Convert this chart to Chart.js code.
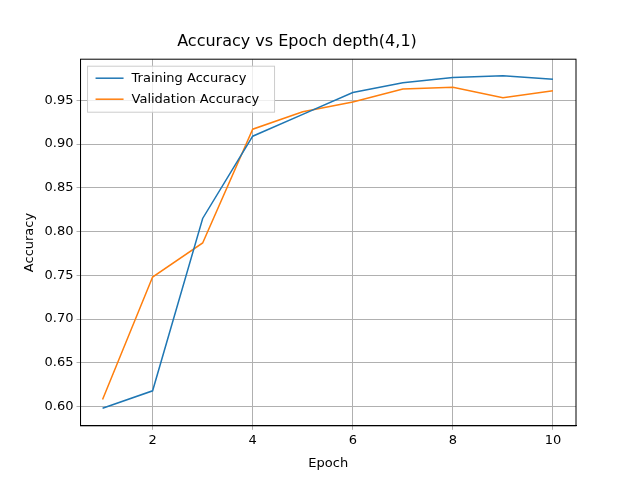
<!DOCTYPE html>
<html>
<head>
<script src="https://cdn.jsdelivr.net/npm/chart.js@4"></script>
<style>body{margin:0;background:#fff}#wrap{width:640px;height:480px}</style>
</head>
<body>
<div id="wrap"><canvas id="c" width="640" height="480"></canvas></div>
<script>
const epochs = [1, 2, 3, 4, 5, 6, 7, 8, 9, 10];
const trainAcc = [0.598, 0.618, 0.815, 0.909, 0.934, 0.959, 0.970, 0.976, 0.978, 0.974];
const valAcc = [0.608, 0.748, 0.787, 0.917, 0.937, 0.948, 0.963, 0.965, 0.953, 0.961];
const xTicks = [2, 4, 6, 8, 10];

const font = { family: "DejaVu Sans", size: 13 };
const toXY = arr => arr.map((v, i) => ({ x: epochs[i], y: v }));

new Chart(document.getElementById("c"), {
    type: "line",
    data: {
        datasets: [
            { label: "Training Accuracy", data: toXY(trainAcc), borderColor: "#1f77b4", backgroundColor: "#1f77b4", borderWidth: 1.5, pointRadius: 0, tension: 0 },
            { label: "Validation Accuracy", data: toXY(valAcc), borderColor: "#ff7f0e", backgroundColor: "#ff7f0e", borderWidth: 1.5, pointRadius: 0, tension: 0 }
        ]
    },
    options: {
        responsive: false,
        animation: false,
        layout: { padding: { left: 18, right: 64, top: 10, bottom: 5 } },
        plugins: {
            title: { display: true, text: "Accuracy vs Epoch depth(4,1)", color: "#000", font: { family: "DejaVu Sans", size: 16, weight: "normal" }, padding: { top: 22, bottom: 8 } },
            legend: { display: false }
        },
        scales: {
            x: {
                type: "linear", min: 0.56, max: 10.46,
                afterBuildTicks: ax => { ax.ticks = xTicks.map(v => ({ value: v })); },
                ticks: { color: "#000", font: font },
                grid: { color: "#b0b0b0", drawTicks: true, tickLength: 4 },
                border: { color: "#000" },
                title: { display: true, text: "Epoch", color: "#000", font: font }
            },
            y: {
                min: 0.578, max: 0.997,
                afterBuildTicks: ax => { ax.ticks = [0.6,0.65,0.7,0.75,0.8,0.85,0.9,0.95].map(v => ({ value: v })); },
                ticks: { color: "#000", font: font, callback: v => v.toFixed(2) },
                grid: { color: "#b0b0b0", tickLength: 4 },
                border: { color: "#000" },
                title: { display: true, text: "Accuracy", color: "#000", font: font }
            }
        }
    },
    plugins: [{
        id: "box",
        afterDraw(chart) {
            const { ctx, chartArea: a } = chart;
            ctx.save();
            ctx.strokeStyle = "#000"; ctx.lineWidth = 1;
            ctx.strokeRect(a.left, a.top, a.right - a.left, a.bottom - a.top);
            // legend box
            const x = a.left + 7, y = a.top + 7, w = 187, h = 46;
            ctx.fillStyle = "rgba(255,255,255,0.8)";
            ctx.strokeStyle = "#ccc";
            ctx.fillRect(x, y, w, h); ctx.strokeRect(x, y, w, h);
            ctx.font = "13px DejaVu Sans"; ctx.textBaseline = "middle";
            chart.data.datasets.forEach((d, i) => {
                const ly = y + 12 + i * 21;
                ctx.strokeStyle = d.borderColor; ctx.lineWidth = 1.5;
                ctx.beginPath(); ctx.moveTo(x + 8, ly); ctx.lineTo(x + 36, ly); ctx.stroke();
                ctx.fillStyle = "#000"; ctx.fillText(d.label, x + 44, ly);
            });
            ctx.restore();
        }
    }]
});
</script>
</body>
</html>
